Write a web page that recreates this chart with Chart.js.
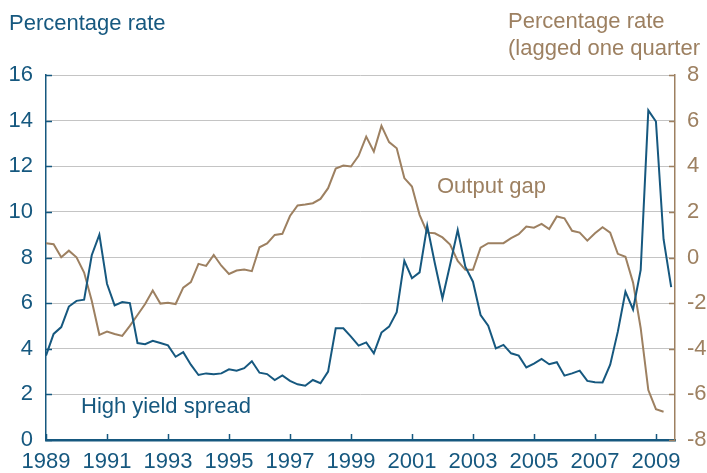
<!DOCTYPE html>
<html>
<head>
<meta charset="utf-8">
<script src="https://cdn.jsdelivr.net/npm/chart.js@4/dist/chart.umd.min.js"></script>
<style>
  html, body { margin: 0; padding: 0; background: #fff; }
</style>
</head>
<body>
<canvas id="spreadChart" width="707" height="473"></canvas>
<script>
// quarterly data, first quarter = 1989 Q1
var startYear = 1989;
var yearTicks = [1989, 1991, 1993, 1995, 1997, 1999, 2001, 2003, 2005, 2007, 2009];
var leftTicks = [0, 2, 4, 6, 8, 10, 12, 14, 16];
var rightTicks = [-8, -6, -4, -2, 0, 2, 4, 6, 8];

// high yield spread (left axis)
var highYieldSpread = [
  3.7, 4.65, 4.95, 5.85, 6.1, 6.15, 8.1, 9.0, 6.85, 5.9, 6.05, 6.0,
  4.25, 4.2, 4.35, 4.25, 4.15, 3.65, 3.85, 3.3, 2.85, 2.92, 2.88, 2.92,
  3.1, 3.04, 3.15, 3.45, 2.95, 2.89, 2.63, 2.83, 2.59, 2.44, 2.38, 2.63,
  2.49, 3.0, 4.9, 4.9, 4.53, 4.14, 4.28, 3.8, 4.71, 4.97, 5.6, 7.85,
  7.09, 7.35, 9.39, 7.75, 6.21, 7.68, 9.2, 7.6, 6.94, 5.48, 5.01, 4.02,
  4.17, 3.8, 3.7, 3.18, 3.35, 3.55, 3.32, 3.41, 2.82, 2.92, 3.04, 2.59,
  2.53, 2.52, 3.3, 4.75, 6.5, 5.72, 7.46, 14.45, 13.96, 8.8, 6.7
];

// output gap, lagged one quarter (right axis)
var outputGap = [
  0.63, 0.58, 0.01, 0.3, 0.01, -0.66, -1.9, -3.39, -3.25, -3.35, -3.44, -3.0,
  -2.52, -2.04, -1.45, -2.02, -1.98, -2.04, -1.32, -1.08, -0.28, -0.37, 0.11, -0.36,
  -0.72, -0.57, -0.53, -0.6, 0.45, 0.62, 0.99, 1.04, 1.82, 2.28, 2.32, 2.38,
  2.57, 3.04, 3.9, 4.03, 3.99, 4.46, 5.3, 4.64, 5.77, 5.06, 4.79, 3.48,
  3.11, 1.87, 1.09, 1.06, 0.88, 0.57, -0.15, -0.54, -0.54, 0.43, 0.63, 0.63,
  0.63, 0.85, 1.02, 1.36, 1.31, 1.47, 1.25, 1.8, 1.72, 1.17, 1.09, 0.74,
  1.06, 1.33, 1.09, 0.16, 0.03, -1.1, -3.1, -5.81, -6.65, -6.76
];

var BLUE = '#16587f';
var BROWN = '#9d8061';
var GRID = '#c4c4c4';
var FONT = "'Liberation Sans', Arial, sans-serif";

function toPoints(values) {
  return values.map(function (v, i) { return { x: startYear + i / 4, y: v }; });
}

Chart.defaults.font.family = FONT;
Chart.defaults.font.size = 22;

// titles, labels and inward tick marks
var overlay = {
  id: 'overlay',
  afterDraw: function (chart) {
    var c = chart.ctx;
    var x = chart.scales.x, yl = chart.scales.y, yr = chart.scales.y1;
    c.save();
    c.lineWidth = 1.5;
    c.strokeStyle = BLUE;
    c.beginPath();
    leftTicks.forEach(function (v) {
      var py = Math.round(yl.getPixelForValue(v)) + 0.5;
      c.moveTo(x.left, py); c.lineTo(x.left + 6, py);
    });
    yearTicks.forEach(function (v) {
      var px = Math.round(x.getPixelForValue(v)) + 0.5;
      c.moveTo(px, yl.bottom); c.lineTo(px, yl.bottom - 6);
    });
    c.stroke();
    c.strokeStyle = BROWN;
    c.beginPath();
    rightTicks.forEach(function (v) {
      var py = Math.round(yr.getPixelForValue(v)) + 0.5;
      c.moveTo(x.right, py); c.lineTo(x.right - 6, py);
    });
    c.stroke();

    c.font = '22px ' + FONT;
    c.textBaseline = 'alphabetic';
    c.textAlign = 'left';
    c.fillStyle = BLUE;
    c.fillText('Percentage rate', 9, 30);
    c.fillText('High yield spread', 81, 413);
    c.fillStyle = BROWN;
    c.fillText('Percentage rate', 508, 28);
    c.fillText('(lagged one quarter', 508, 55);
    c.fillText('Output gap', 437, 193);
    c.restore();
  }
};

var ctx = document.getElementById('spreadChart').getContext('2d');

var myChart = new Chart(ctx, {
  type: 'line',
  data: {
    datasets: [{
      label: 'High yield spread',
      data: toPoints(highYieldSpread),
      borderColor: BLUE,
      borderWidth: 2,
      pointRadius: 0,
      tension: 0,
      yAxisID: 'y'
    }, {
      label: 'Output gap',
      data: toPoints(outputGap),
      borderColor: BROWN,
      borderWidth: 2,
      pointRadius: 0,
      tension: 0,
      yAxisID: 'y1'
    }]
  },
  options: {
    responsive: false,
    animation: false,
    layout: { padding: { top: 75, left: 0, right: 0, bottom: 0 } },
    plugins: {
      legend: { display: false },
      tooltip: { enabled: false }
    },
    scales: {
      x: {
        type: 'linear',
        min: startYear,
        max: 2009.625,
        afterBuildTicks: function (scale) {
          scale.ticks = yearTicks.map(function (v) { return { value: v }; });
        },
        afterFit: function (scale) { scale.height = 33; },
        grid: { display: false, drawTicks: false },
        border: { display: true, color: BLUE, width: 2.5 },
        ticks: {
          color: BLUE,
          padding: 9,
          maxRotation: 0,
          autoSkip: false,
          callback: function (v) { return String(v); }
        }
      },
      y: {
        position: 'left',
        min: 0,
        max: 16,
        afterBuildTicks: function (scale) {
          scale.ticks = leftTicks.map(function (v) { return { value: v }; });
        },
        afterFit: function (scale) { scale.width = 46; },
        grid: { color: GRID, lineWidth: 1, drawTicks: false },
        border: { display: true, color: BLUE, width: 1.5 },
        ticks: { color: BLUE, padding: 13 }
      },
      y1: {
        position: 'right',
        min: -8,
        max: 8,
        afterBuildTicks: function (scale) {
          scale.ticks = rightTicks.map(function (v) { return { value: v }; });
        },
        afterFit: function (scale) { scale.width = 32; },
        grid: { display: false, drawTicks: false },
        border: { display: true, color: BROWN, width: 1.5 },
        ticks: { color: BROWN, padding: 12 }
      }
    }
  },
  plugins: [overlay]
});
</script>
</body>
</html>
